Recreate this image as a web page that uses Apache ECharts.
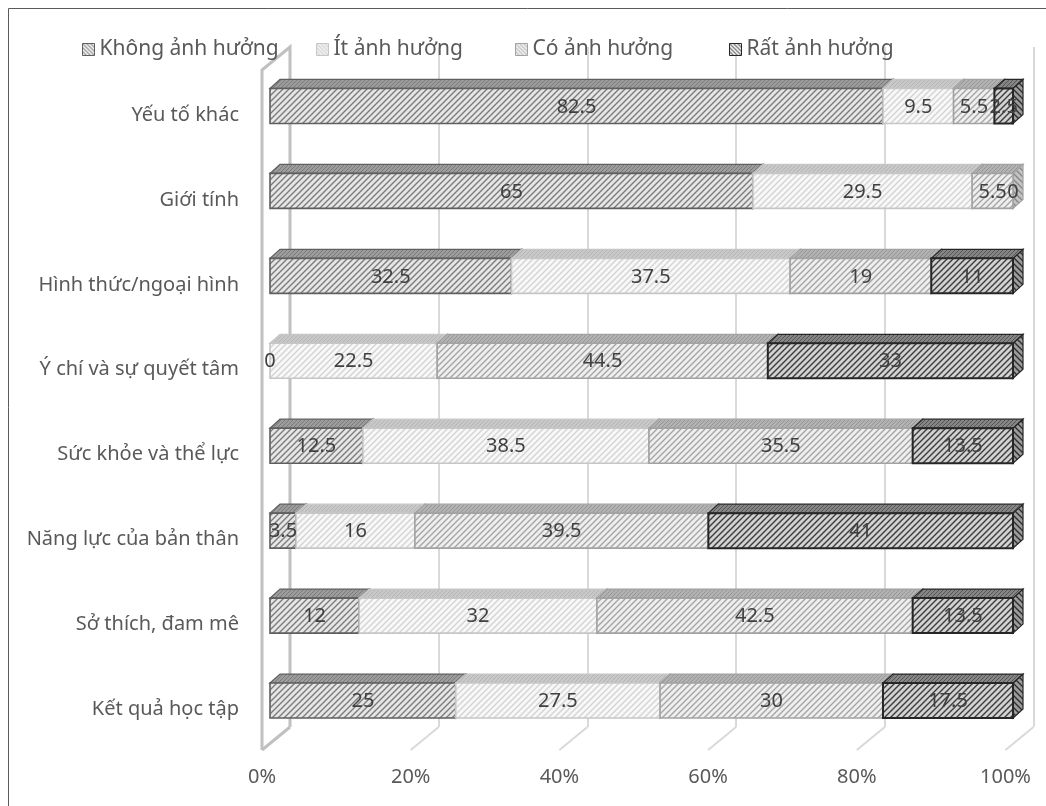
<!DOCTYPE html>
<html>
<head>
<meta charset="utf-8">
<script src="https://cdn.jsdelivr.net/npm/echarts@6/dist/echarts.min.js"></script>
<style>
  html, body { margin: 0; padding: 0; background: #fff; }
  #chart { width: 1046px; height: 806px; }
</style>
</head>
<body>
<div id="chart"></div>
<script>
// categories bottom -> top (category axis starts at the bottom)
const categories = [
  "Kết quả học tập",
  "Sở thích, đam mê",
  "Năng lực của bản thân",
  "Sức khỏe và thể lực",
  "Ý chí và sự quyết tâm",
  "Hình thức/ngoại hình",
  "Giới tính",
  "Yếu tố khác",
];
const seriesNames = ["Không ảnh hưởng", "Ít ảnh hưởng", "Có ảnh hưởng", "Rất ảnh hưởng"];
const khongAnhHuong = [25, 12, 3.5, 12.5, 0, 32.5, 65, 82.5];
const itAnhHuong = [27.5, 32, 16, 38.5, 22.5, 37.5, 29.5, 9.5];
const coAnhHuong = [30, 42.5, 39.5, 35.5, 44.5, 19, 5.5, 5.5];
const ratAnhHuong = [17.5, 13.5, 41, 13.5, 33, 11, 0, 2.5];
const percentTicks = [0, 20, 40, 60, 80, 100];

const seriesValues = [khongAnhHuong, itAnhHuong, coAnhHuong, ratAnhHuong];

// 3D look: depth offset of the bars and of the walls
const BAR_DX = 10, BAR_DY = 9, BAR_H = 35;
const WALL_DX = 28, WALL_DY = 23;
const FONT = '"Noto Sans", "Open Sans", sans-serif';
const legendLefts = [77, 311, 510, 724];

function hatch(bg, line, lw, step, dir) {
  const c = document.createElement("canvas");
  c.width = step; c.height = step;
  const g = c.getContext("2d");
  g.fillStyle = bg; g.fillRect(0, 0, step, step);
  g.strokeStyle = line; g.lineWidth = lw;
  g.beginPath();
  if (dir > 0) {
    g.moveTo(-1, step + 1); g.lineTo(step + 1, -1);
    g.moveTo(-2, 2); g.lineTo(2, -2);
    g.moveTo(step - 2, step + 2); g.lineTo(step + 2, step - 2);
  } else {
    g.moveTo(-1, -1); g.lineTo(step + 1, step + 1);
    g.moveTo(step - 2, -2); g.lineTo(step + 2, 2);
    g.moveTo(-2, step - 2); g.lineTo(2, step + 2);
  }
  g.stroke();
  return { image: c, repeat: "repeat" };
}

function dotted(bg, fg) {
  const c = document.createElement("canvas");
  c.width = 4; c.height = 4;
  const g = c.getContext("2d");
  g.fillStyle = bg; g.fillRect(0, 0, 4, 4);
  g.fillStyle = fg;
  g.fillRect(0, 0, 1, 1); g.fillRect(2, 2, 1, 1);
  g.fillRect(1, 3, 1, 1); g.fillRect(3, 1, 1, 1);
  return { image: c, repeat: "repeat" };
}

const looks = [
  { front: hatch("#e6e6e6", "#7c7c7c", 1.4, 6, 1), top: dotted("#9c9c9c", "#7a7a7a"),
    side: hatch("#b4b4b4", "#5e5e5e", 1.4, 6, -1), border: "#5f5f5f", bw: 1.6 },
  { front: hatch("#f8f8f8", "#d4d4d4", 1.4, 6, 1), top: dotted("#c8c8c8", "#b4b4b4"),
    side: hatch("#dddddd", "#b0b0b0", 1.4, 6, -1), border: "#c6c6c6", bw: 1.6 },
  { front: hatch("#efefef", "#a5a5a5", 1.4, 6, 1), top: dotted("#b2b2b2", "#969696"),
    side: hatch("#c4c4c4", "#888888", 1.4, 6, -1), border: "#a2a2a2", bw: 1.6 },
  { front: hatch("#d2d2d2", "#3c3c3c", 1.4, 6, 1), top: dotted("#858585", "#555555"),
    side: hatch("#9c9c9c", "#2e2e2e", 1.4, 6, -1), border: "#262626", bw: 2 },
];

function barSeries(si) {
  const data = seriesValues[si].map((v, ci) => {
    let start = 0;
    for (let k = 0; k < si; k++) start += seriesValues[k][ci];
    return [start, start + v, ci, v];
  });
  const lk = looks[si];
  return {
    name: seriesNames[si],
    type: "custom",
    xAxisIndex: 0,
    yAxisIndex: 0,
    silent: true,
    itemStyle: { color: lk.front, borderColor: lk.border, borderWidth: 1 },
    encode: { x: [0, 1], y: 2 },
    data,
    renderItem(params, api) {
      const a = api.coord([api.value(0), api.value(2)]);
      const b = api.coord([api.value(1), api.value(2)]);
      const v = api.value(3);
      const x0 = a[0], x1 = b[0];
      const y0 = a[1] - BAR_H / 2, y1 = a[1] + BAR_H / 2;
      const children = [];
      if (v > 0) {
        children.push({
          type: "polygon",
          shape: { points: [[x1, y0], [x1 + BAR_DX, y0 - BAR_DY], [x1 + BAR_DX, y1 - BAR_DY], [x1, y1]] },
          style: { fill: lk.side, stroke: lk.border, lineWidth: 1.2 },
        });
        children.push({
          type: "polygon",
          shape: { points: [[x0, y0], [x0 + BAR_DX, y0 - BAR_DY], [x1 + BAR_DX, y0 - BAR_DY], [x1, y0]] },
          style: { fill: lk.top, stroke: lk.border, lineWidth: 1.2 },
        });
        children.push({
          type: "rect",
          shape: { x: x0, y: y0, width: x1 - x0, height: y1 - y0 },
          style: { fill: lk.front, stroke: lk.border, lineWidth: lk.bw },
        });
      }
      children.push({
        type: "text",
        z2: 100,
        x: (x0 + x1) / 2,
        y: a[1] + 1,
        style: {
          text: String(v),
          fill: "#404040",
          font: "20px " + FONT,
          align: "center",
          verticalAlign: "middle",
        },
      });
      return { type: "group", children };
    },
  };
}

// walls: slanted floor lines and the left side wall
const wallSeries = {
  type: "custom",
  xAxisIndex: 1,
  yAxisIndex: 1,
  silent: true,
  data: percentTicks.map((t) => [t]),
  renderItem(params, api) {
    const t = api.value(0);
    const bot = api.coord([t, 0]);
    const top = api.coord([t, 1]);
    const children = [];
    const main = t === 0;
    children.push({
      type: "line",
      shape: { x1: bot[0], y1: bot[1], x2: bot[0] - WALL_DX, y2: bot[1] + WALL_DY },
      style: { stroke: main ? "#c0c0c0" : "#d9d9d9", lineWidth: main ? 3 : 2 },
    });
    if (main) {
      children.push({
        type: "polyline",
        shape: { points: [[bot[0] - WALL_DX, bot[1] + WALL_DY], [top[0] - WALL_DX, top[1] + WALL_DY], [top[0], top[1]], [bot[0], bot[1]]] },
        style: { stroke: "#c0c0c0", lineWidth: 3, fill: null },
      });
    }
    return { type: "group", children };
  },
};

const chart = echarts.init(document.getElementById("chart"), null, { renderer: "canvas" });
chart.setOption({
  animation: false,
  backgroundColor: "#fff",
  textStyle: { fontFamily: FONT },
  graphic: [
    {
      type: "rect",
      shape: { x: 8.5, y: 8.5, width: 1100, height: 900 },
      style: { fill: null, stroke: "#5a5a5a", lineWidth: 1 },
      silent: true,
    },
  ],
  legend: seriesNames.map((n, i) => ({
    left: legendLefts[i],
    top: 34,
    itemWidth: 12,
    itemHeight: 12,
    icon: "rect",
    textStyle: { fontSize: 21, color: "#595959", fontFamily: FONT },
    data: [{
      name: n,
      itemStyle: { color: hatch("#f0f0f0", looks[i].border, 1, 4, -1), borderColor: looks[i].border, borderWidth: 1 },
    }],
  })),
  grid: [
    { left: 270, right: 33, top: 63.5, bottom: 63 },
    { left: 290, right: 12.5, top: 47, bottom: 79 },
  ],
  xAxis: [
    { gridIndex: 0, type: "value", min: 0, max: 100, show: false },
    {
      gridIndex: 1,
      type: "value",
      min: 0,
      max: 100,
      interval: 20,
      axisLine: { show: false },
      axisTick: { show: false },
      splitLine: { show: true, lineStyle: { color: "#d9d9d9", width: 2 } },
      axisLabel: {
        formatter: "{value}%",
        color: "#595959",
        fontSize: 20,
        fontFamily: FONT,
        margin: 40,
        padding: [0, 2 * WALL_DX, 0, 0],
      },
    },
  ],
  yAxis: [
    {
      gridIndex: 0,
      type: "category",
      data: categories,
      axisLine: { show: false },
      axisTick: { show: false },
      splitLine: { show: false },
      axisLabel: {
        color: "#595959",
        fontSize: 20,
        fontFamily: FONT,
        margin: 31,
        verticalAlign: "top",
        lineHeight: 18,
      },
    },
    { gridIndex: 1, type: "value", min: 0, max: 1, show: false },
  ],
  series: [wallSeries, barSeries(0), barSeries(1), barSeries(2), barSeries(3)],
});
</script>
</body>
</html>
